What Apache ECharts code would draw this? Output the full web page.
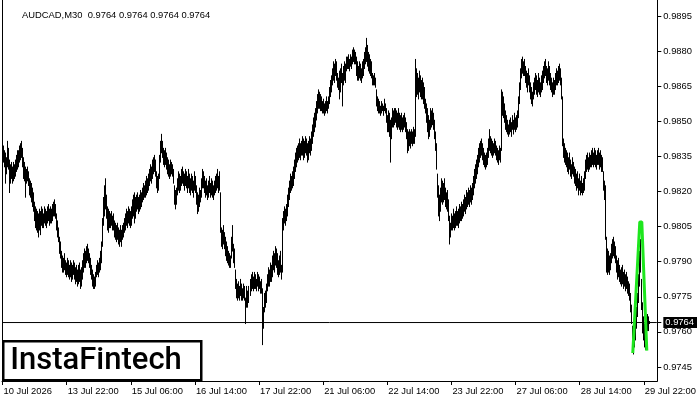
<!DOCTYPE html>
<html>
<head>
<meta charset="utf-8">
<script src="https://cdn.jsdelivr.net/npm/echarts@6/dist/echarts.min.js"></script>
<style>
html,body{margin:0;padding:0;background:#fff;}
#chart{width:700px;height:400px;}
</style>
</head>
<body>
<div id="chart"></div>
<script>
// ---- data ----
const symbol = 'AUDCAD';
const timeframe = 'M30';
const lastOHLC = [0.9764, 0.9764, 0.9764, 0.9764];
const lastPrice = 0.9764;

// bar highs (oldest -> newest)
const highs = [
0.9841,0.9839,0.9837,0.9836,0.9834,0.9841,0.9838,0.9833,0.9831,0.9832,
0.9830,0.9832,0.9831,0.9833,0.9835,0.9837,0.9837,0.9839,0.9840,0.9841,
0.9838,0.9834,0.9832,0.9830,0.9829,0.9830,0.9828,0.9825,0.9824,0.9823,
0.9821,0.9819,0.9815,0.9813,0.9812,0.9811,0.9810,0.9812,0.9811,0.9813,
0.9812,0.9810,0.9813,0.9812,0.9811,0.9813,0.9814,0.9812,0.9813,0.9812,
0.9814,0.9815,0.9816,0.9814,0.9810,0.9807,0.9804,0.9800,0.9798,0.9794,
0.9792,0.9791,0.9793,0.9790,0.9789,0.9791,0.9790,0.9788,0.9790,0.9789,
0.9788,0.9790,0.9789,0.9787,0.9788,0.9786,0.9788,0.9789,0.9786,0.9787,
0.9790,0.9793,0.9795,0.9794,0.9796,0.9797,0.9795,0.9793,0.9791,0.9788,
0.9786,0.9784,0.9783,0.9785,0.9788,0.9790,0.9789,0.9791,0.9794,0.9798,
0.9808,0.9817,0.9822,0.9825,0.9818,0.9813,0.9812,0.9811,0.9810,0.9811,
0.9809,0.9810,0.9807,0.9806,0.9805,0.9806,0.9804,0.9803,0.9805,0.9803,
0.9805,0.9806,0.9808,0.9810,0.9812,0.9811,0.9813,0.9812,0.9811,0.9813,
0.9816,0.9818,0.9819,0.9817,0.9818,0.9819,0.9817,0.9818,0.9820,0.9819,
0.9821,0.9823,0.9822,0.9824,0.9826,0.9825,0.9827,0.9829,0.9831,0.9830,
0.9833,0.9834,0.9835,0.9833,0.9828,0.9826,0.9827,0.9835,0.9841,0.9844,
0.9841,0.9838,0.9837,0.9838,0.9836,0.9834,0.9833,0.9831,0.9833,0.9832,
0.9831,0.9829,0.9822,0.9820,0.9821,0.9825,0.9828,0.9827,0.9826,0.9829,
0.9830,0.9828,0.9827,0.9829,0.9828,0.9826,0.9829,0.9827,0.9825,0.9827,
0.9826,0.9824,0.9828,0.9826,0.9822,0.9819,0.9818,0.9821,0.9820,0.9825,
0.9829,0.9828,0.9826,0.9824,0.9825,0.9822,0.9824,0.9826,0.9823,0.9825,
0.9824,0.9822,0.9824,0.9826,0.9827,0.9829,0.9826,
0.9828,0.9819,0.9804,0.9803,0.9805,0.9802,0.9800,0.9798,0.9796,0.9794,
0.9793,0.9792,0.9800,0.9805,0.9797,0.9795,0.9786,0.9782,0.9780,0.9781,
0.9779,0.9782,0.9780,0.9778,0.9780,0.9779,0.9774,0.9779,0.9777,0.9779,
0.9782,0.9784,0.9785,0.9783,0.9785,0.9784,0.9782,0.9785,0.9784,0.9783,
0.9781,0.9782,0.9778,0.9770,0.9776,0.9777,0.9780,0.9784,0.9787,0.9786,
0.9789,0.9788,0.9792,0.9794,0.9793,0.9796,0.9795,0.9793,0.9790,0.9792,
0.9794,0.9788,0.9808,0.9811,0.9813,0.9812,0.9814,0.9818,0.9821,0.9824,
0.9827,0.9826,0.9828,0.9830,0.9833,0.9836,0.9838,0.9839,0.9840,0.9842,
0.9840,0.9841,0.9843,0.9842,0.9841,0.9843,0.9842,0.9840,0.9841,0.9843,
0.9842,0.9845,0.9848,0.9851,0.9853,0.9855,0.9858,0.9861,0.9863,0.9862,
0.9861,0.9860,0.9858,0.9859,0.9857,0.9858,0.9860,0.9858,0.9860,0.9864,
0.9867,0.9869,0.9872,0.9875,0.9874,0.9876,0.9875,0.9870,0.9868,0.9871,
0.9872,0.9874,0.9870,0.9873,0.9875,0.9874,0.9877,0.9877,0.9878,0.9876,
0.9878,0.9877,0.9880,0.9881,0.9880,0.9879,0.9877,0.9875,0.9873,0.9875,
0.9874,0.9872,0.9875,0.9876,0.9879,0.9881,0.9885,0.9882,0.9879,0.9878,
0.9876,0.9875,0.9870,0.9869,0.9870,0.9868,0.9863,0.9860,0.9859,0.9858,
0.9856,0.9858,0.9857,0.9856,0.9859,0.9857,0.9855,0.9852,0.9854,0.9853,
0.9850,0.9851,0.9855,0.9854,0.9855,0.9855,0.9854,0.9853,0.9855,0.9853,
0.9852,0.9853,0.9851,0.9852,0.9853,0.9851,0.9849,0.9846,0.9845,0.9846,
0.9845,0.9846,0.9845,0.9847,0.9846,0.9876,0.9872,0.9870,0.9868,0.9871,
0.9869,0.9867,0.9868,0.9866,0.9864,0.9859,0.9857,0.9855,0.9852,0.9850,
0.9855,0.9854,0.9855,0.9853,0.9850,0.9845,
0.9840,0.9827,0.9822,0.9818,0.9821,0.9825,0.9824,0.9823,0.9825,0.9821,
0.9819,0.9820,0.9816,0.9809,0.9806,0.9810,0.9809,0.9812,0.9810,0.9811,
0.9813,0.9811,0.9812,0.9814,0.9813,0.9815,0.9814,0.9816,0.9818,0.9817,
0.9820,0.9819,0.9821,0.9820,0.9822,0.9821,0.9823,0.9826,0.9829,0.9831,
0.9833,0.9835,0.9838,0.9840,0.9841,0.9842,0.9840,0.9838,0.9836,0.9835,
0.9836,0.9838,0.9842,0.9846,0.9843,0.9842,0.9841,0.9840,0.9842,0.9841,
0.9839,0.9838,0.9837,0.9839,0.9838,0.9863,0.9862,0.9860,0.9857,0.9854,
0.9852,0.9850,0.9848,0.9850,0.9851,0.9849,0.9852,0.9850,0.9853,0.9851,
0.9852,0.9854,0.9860,0.9866,0.9872,0.9876,0.9877,0.9875,0.9876,0.9873,
0.9871,0.9870,0.9872,0.9869,0.9866,0.9864,0.9862,0.9866,0.9868,0.9870,
0.9869,0.9867,0.9870,0.9868,0.9866,0.9869,0.9871,0.9873,0.9875,0.9876,
0.9873,0.9872,0.9875,0.9873,0.9870,0.9868,0.9866,0.9868,0.9867,0.9870,
0.9872,0.9871,0.9873,0.9874,0.9872,0.9868,0.9860,0.9842,0.9840,0.9838,
0.9837,0.9836,0.9834,0.9836,0.9833,0.9831,0.9834,0.9832,0.9830,0.9829,
0.9827,0.9828,0.9825,0.9827,0.9824,0.9826,0.9823,0.9825,0.9828,0.9833,
0.9835,0.9836,0.9834,0.9836,0.9835,0.9837,0.9838,0.9836,0.9838,0.9837,
0.9835,0.9837,0.9838,0.9836,0.9837,0.9835,0.9834,0.9828,0.9824,0.9822,
0.9800,0.9795,0.9794,0.9792,0.9793,0.9797,0.9799,0.9800,0.9798,0.9796,
0.9792,0.9790,0.9791,0.9788,0.9786,0.9787,0.9788,0.9785,0.9786,0.9784,
0.9785,0.9783,0.9781,0.9780,0.9776,0.9771,0.9762,0.9760,0.9762,0.9764,
0.9770,0.9776,0.9784,0.9794,0.9799,0.9782,0.9772,0.9766,0.9763,0.9761,
0.9764,0.9767,0.9766,0.9764
];

// bar lows (oldest -> newest)
const lows = [
0.9834,0.9833,0.9831,0.9824,0.9828,0.9831,0.9830,0.9820,0.9824,0.9826,
0.9824,0.9825,0.9826,0.9827,0.9829,0.9830,0.9831,0.9833,0.9834,0.9835,
0.9831,0.9826,0.9825,0.9818,0.9824,0.9825,0.9823,0.9819,0.9818,0.9816,
0.9814,0.9812,0.9808,0.9805,0.9804,0.9803,0.9801,0.9804,0.9802,0.9806,
0.9805,0.9805,0.9807,0.9806,0.9805,0.9807,0.9808,0.9806,0.9807,0.9807,
0.9808,0.9810,0.9810,0.9809,0.9804,0.9801,0.9799,0.9794,0.9792,0.9788,
0.9786,0.9786,0.9787,0.9785,0.9784,0.9785,0.9784,0.9783,0.9784,0.9782,
0.9783,0.9785,0.9783,0.9781,0.9782,0.9780,0.9781,0.9782,0.9779,0.9780,
0.9783,0.9786,0.9788,0.9788,0.9790,0.9791,0.9790,0.9788,0.9785,0.9783,
0.9780,0.9779,0.9779,0.9780,0.9784,0.9785,0.9784,0.9786,0.9787,0.9790,
0.9797,0.9806,0.9810,0.9813,0.9809,0.9804,0.9803,0.9805,0.9805,0.9806,
0.9804,0.9804,0.9801,0.9800,0.9799,0.9800,0.9798,0.9797,0.9799,0.9797,
0.9800,0.9801,0.9803,0.9804,0.9806,0.9805,0.9807,0.9806,0.9805,0.9806,
0.9809,0.9810,0.9807,0.9809,0.9812,0.9813,0.9811,0.9812,0.9813,0.9814,
0.9816,0.9817,0.9818,0.9818,0.9819,0.9820,0.9821,0.9823,0.9825,0.9824,
0.9826,0.9828,0.9829,0.9827,0.9822,0.9820,0.9821,0.9826,0.9833,0.9837,
0.9835,0.9832,0.9831,0.9832,0.9830,0.9828,0.9827,0.9826,0.9827,0.9828,
0.9827,0.9824,0.9815,0.9813,0.9815,0.9819,0.9821,0.9820,0.9821,0.9823,
0.9824,0.9823,0.9821,0.9823,0.9822,0.9820,0.9822,0.9820,0.9819,0.9821,
0.9820,0.9818,0.9821,0.9820,0.9815,0.9811,0.9812,0.9814,0.9816,0.9818,
0.9822,0.9822,0.9820,0.9818,0.9819,0.9817,0.9818,0.9820,0.9818,0.9819,
0.9818,0.9817,0.9819,0.9820,0.9821,0.9822,0.9820,
0.9821,0.9803,0.9797,0.9796,0.9798,0.9796,0.9793,0.9791,0.9790,0.9789,
0.9788,0.9788,0.9792,0.9795,0.9790,0.9788,0.9779,0.9775,0.9774,0.9775,
0.9774,0.9776,0.9774,0.9774,0.9775,0.9774,0.9764,0.9771,0.9771,0.9773,
0.9776,0.9778,0.9779,0.9778,0.9779,0.9779,0.9778,0.9780,0.9778,0.9779,
0.9777,0.9777,0.9755,0.9762,0.9769,0.9771,0.9773,0.9778,0.9780,0.9780,
0.9782,0.9782,0.9784,0.9787,0.9786,0.9789,0.9788,0.9785,0.9784,0.9785,
0.9786,0.9783,0.9786,0.9804,0.9807,0.9806,0.9808,0.9810,0.9814,0.9817,
0.9820,0.9821,0.9822,0.9823,0.9826,0.9829,0.9831,0.9833,0.9834,0.9835,
0.9834,0.9836,0.9836,0.9834,0.9835,0.9837,0.9836,0.9833,0.9834,0.9837,
0.9836,0.9838,0.9841,0.9844,0.9846,0.9848,0.9851,0.9854,0.9856,0.9856,
0.9855,0.9855,0.9854,0.9854,0.9853,0.9854,0.9855,0.9854,0.9856,0.9858,
0.9861,0.9863,0.9866,0.9868,0.9867,0.9870,0.9868,0.9865,0.9864,0.9860,
0.9863,0.9867,0.9857,0.9866,0.9868,0.9867,0.9872,0.9873,0.9873,0.9872,
0.9874,0.9873,0.9875,0.9876,0.9875,0.9875,0.9870,0.9868,0.9868,0.9869,
0.9868,0.9867,0.9869,0.9870,0.9873,0.9875,0.9876,0.9874,0.9872,0.9871,
0.9870,0.9869,0.9866,0.9866,0.9866,0.9865,0.9857,0.9855,0.9854,0.9854,
0.9853,0.9854,0.9855,0.9853,0.9855,0.9854,0.9850,0.9846,0.9846,0.9844,
0.9833,0.9843,0.9848,0.9848,0.9849,0.9850,0.9848,0.9847,0.9848,0.9847,
0.9846,0.9847,0.9846,0.9847,0.9848,0.9846,0.9843,0.9837,0.9838,0.9840,
0.9839,0.9841,0.9840,0.9841,0.9841,0.9844,0.9861,0.9862,0.9860,0.9863,
0.9861,0.9860,0.9860,0.9858,0.9856,0.9854,0.9850,0.9846,0.9843,0.9844,
0.9847,0.9848,0.9849,0.9847,0.9843,0.9838,
0.9830,0.9818,0.9810,0.9808,0.9812,0.9816,0.9815,0.9816,0.9817,0.9814,
0.9813,0.9812,0.9808,0.9798,0.9801,0.9804,0.9804,0.9805,0.9804,0.9805,
0.9806,0.9806,0.9805,0.9807,0.9808,0.9808,0.9809,0.9810,0.9812,0.9811,
0.9813,0.9814,0.9815,0.9814,0.9816,0.9815,0.9817,0.9819,0.9822,0.9824,
0.9826,0.9828,0.9831,0.9833,0.9835,0.9836,0.9834,0.9832,0.9831,0.9830,
0.9831,0.9832,0.9835,0.9838,0.9837,0.9836,0.9835,0.9836,0.9837,0.9836,
0.9834,0.9833,0.9832,0.9834,0.9833,0.9838,0.9853,0.9852,0.9850,0.9847,
0.9846,0.9845,0.9844,0.9845,0.9846,0.9844,0.9847,0.9845,0.9847,0.9846,
0.9847,0.9848,0.9852,0.9858,0.9864,0.9869,0.9871,0.9870,0.9870,0.9867,
0.9865,0.9863,0.9866,0.9863,0.9860,0.9858,0.9857,0.9860,0.9862,0.9864,
0.9862,0.9861,0.9863,0.9862,0.9861,0.9863,0.9864,0.9867,0.9869,0.9870,
0.9867,0.9866,0.9868,0.9866,0.9864,0.9863,0.9861,0.9862,0.9862,0.9864,
0.9866,0.9866,0.9867,0.9868,0.9866,0.9860,0.9840,0.9835,0.9833,0.9832,
0.9831,0.9829,0.9828,0.9830,0.9827,0.9826,0.9828,0.9827,0.9824,0.9823,
0.9821,0.9822,0.9819,0.9821,0.9819,0.9820,0.9819,0.9820,0.9821,0.9826,
0.9829,0.9830,0.9829,0.9830,0.9831,0.9831,0.9832,0.9831,0.9832,0.9831,
0.9830,0.9832,0.9832,0.9830,0.9831,0.9829,0.9829,0.9821,0.9817,0.9800,
0.9786,0.9785,0.9786,0.9785,0.9787,0.9790,0.9792,0.9793,0.9792,0.9790,
0.9786,0.9783,0.9784,0.9782,0.9781,0.9780,0.9781,0.9779,0.9780,0.9778,
0.9779,0.9777,0.9776,0.9774,0.9769,0.9764,0.9753,0.9751,0.9754,0.9757,
0.9762,0.9767,0.9773,0.9780,0.9786,0.9770,0.9760,0.9757,0.9754,0.9753,
0.9758,0.9761,0.9761,0.9764
];

// time axis labels, one every 64 bars starting at bar 0
const tickLabels = ['10 Jul 2026','13 Jul 22:00','15 Jul 06:00','16 Jul 14:00','17 Jul 22:00',
  '21 Jul 06:00','22 Jul 14:00','23 Jul 22:00','27 Jul 06:00','28 Jul 14:00','29 Jul 22:00'];
const barsPerTick = 64;
const slotCount = 654; // bars + empty chart shift on the right

// price axis labels
const priceTicks = [0.9745,0.9760,0.9775,0.9790,0.9805,0.9820,0.9835,0.9850,0.9865,0.9880,0.9895];

// green pattern (bar index, price)
const patternBars = [629, 636, 638, 643];
const patternPrices = [0.9751, 0.9807, 0.9807, 0.9752];

// ---- chart ----
const categories = Array.from({length: slotCount}, (_, i) => String(i));
const barData = highs.map((h, i) => [i, lows[i], h]);
const patternData = patternBars.map((b, k) => [b, patternPrices[k]]);
const priceLineData = [[0, lastPrice], [slotCount - 1, lastPrice]];
const FONT = 'Liberation Sans, Arial, sans-serif';
const FS = 9.4;
const isTick = (idx) => idx % barsPerTick === 0 && idx / barsPerTick < tickLabels.length;

const chart = echarts.init(document.getElementById('chart'), null, {renderer: 'canvas'});
chart.setOption({
  animation: false,
  backgroundColor: '#ffffff',
  title: {
    text: symbol + ',' + timeframe + '  ' + lastOHLC.map(v => v.toFixed(4)).join(' '),
    left: 17, top: 6,
    textStyle: {fontSize: FS, fontWeight: 'normal', fontFamily: FONT, color: '#000'}
  },
  grid: {left: 2, right: 41, top: 0, bottom: 19, containLabel: false},
  xAxis: {
    type: 'category',
    data: categories,
    boundaryGap: true,
    axisLine: {show: true, onZero: false, lineStyle: {color: '#000', width: 1}},
    axisTick: {show: true, alignWithLabel: true, interval: (i) => isTick(i), length: 4, lineStyle: {color: '#000'}},
    axisLabel: {
      interval: (i) => isTick(i),
      formatter: (v, i) => tickLabels[Math.round(i / barsPerTick)] || '',
      align: 'left', margin: 6, padding: [0, 0, 0, 1],
      fontSize: FS, fontFamily: FONT, color: '#000'
    },
    splitLine: {show: false}
  },
  yAxis: [{
    type: 'value',
    position: 'right',
    min: 0.973902, max: 0.990184,
    axisLine: {show: true, onZero: false, lineStyle: {color: '#000', width: 1}},
    axisTick: {show: true, length: 4, lineStyle: {color: '#000'}, customValues: priceTicks.concat([lastPrice])},
    axisLabel: {
      customValues: priceTicks.concat([lastPrice]),
      margin: 6,
      fontSize: FS, fontFamily: FONT, color: '#000',
      formatter: (v) => Math.abs(v - lastPrice) < 1e-7 ? '{cur|' + v.toFixed(4) + '}' : v.toFixed(4),
      rich: {cur: {backgroundColor: '#000', color: '#fff', fontSize: FS, fontFamily: FONT, padding: [1, 3, 1, 2]}}
    },
    splitLine: {show: false}
  }, {
    type: 'value',
    position: 'left',
    min: 0.973902, max: 0.990184,
    axisLine: {show: true, onZero: false, lineStyle: {color: '#000', width: 1}},
    axisTick: {show: false}, axisLabel: {show: false}, splitLine: {show: false}
  }],
  series: [{
    type: 'line',
    xAxisIndex: 0, yAxisIndex: 0,
    data: priceLineData,
    symbol: 'none',
    lineStyle: {color: '#000', width: 1},
    silent: true,
    z: 1
  }, {
    type: 'custom',
    xAxisIndex: 0, yAxisIndex: 0,
    data: barData,
    encode: {x: 0, y: [1, 2]},
    clip: true,
    renderItem: (params, api) => {
      const top = api.coord([api.value(0), api.value(2)]);
      const bot = api.coord([api.value(0), api.value(1)]);
      const x = Math.floor(top[0]) + 0.5;
      return {
        type: 'line',
        shape: {x1: x, y1: top[1] - 1.5, x2: x, y2: bot[1] + 1.5},
        style: {stroke: '#000', lineWidth: 1}
      };
    },
    z: 2
  }, {
    type: 'line',
    xAxisIndex: 0, yAxisIndex: 0,
    data: patternData,
    symbol: 'none',
    lineStyle: {color: '#1ee61e', width: 3},
    silent: true,
    z: 3
  }],
  graphic: [{
    type: 'group', left: 2, top: 340,
    children: [{
      type: 'rect', shape: {x: 1, y: 1, width: 198, height: 39},
      style: {fill: '#fff', stroke: '#000', lineWidth: 2.5}
    }, {
      type: 'text', x: 8, y: 21,
      style: {text: 'InstaFintech', font: '500 31px Roboto, sans-serif', fill: '#000', textVerticalAlign: 'middle'}
    }]
  }]
});
</script>
</body>
</html>
